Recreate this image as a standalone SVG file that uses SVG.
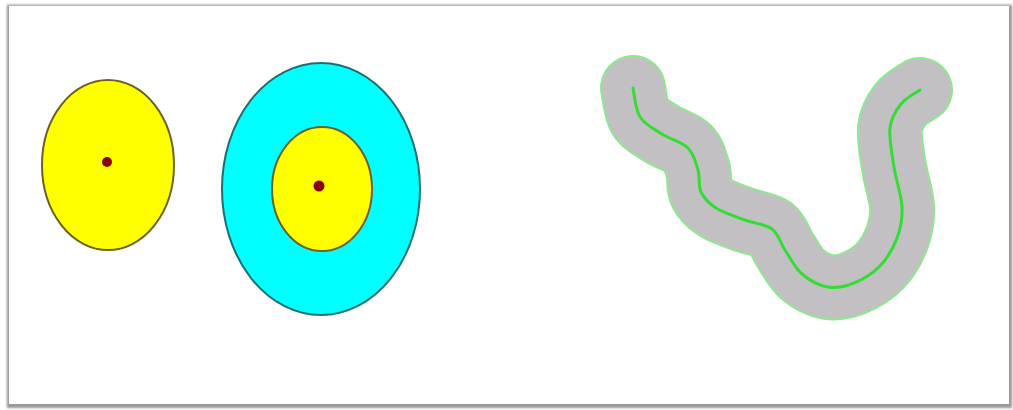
<svg xmlns="http://www.w3.org/2000/svg" xmlns:xlink="http://www.w3.org/1999/xlink" width="1013" height="410" viewBox="0 0 1013 410">
<defs>
<filter id="blur" x="-5%" y="-5%" width="110%" height="110%"><feGaussianBlur stdDeviation="1.2"/></filter>
<path id="river" d="M633,88 C634.2,92.8 635.2,109.3 640,117 C644.8,124.7 654,128.8 662,134 C670,139.2 682,142 688,148 C694,154 695.8,162.7 698,170 C700.2,177.3 698,185.7 701,192 C704,198.3 708.7,203.3 716,208 C723.3,212.7 735.7,216.5 745,220 C754.3,223.5 765.3,224 772,229 C778.7,234 780,242.5 785,250 C790,257.5 794.8,267.8 802,274 C809.2,280.2 819.3,285.5 828,287 C836.7,288.5 845.3,286.5 854,283 C862.7,279.5 872.8,273.5 880,266 C887.2,258.5 893.3,247.8 897,238 C900.7,228.2 902.5,218.8 902,207 C901.5,195.2 896,180.2 894,167 C892,153.8 888.8,138.5 890,128 C891.2,117.5 896,110.3 901,104 C906,97.7 916.8,92.3 920,90"/>
<style>
.yel{fill:#ffff00;stroke:#6e6020;stroke-width:2}
.cy{fill:#00ffff;stroke:#1f6f70;stroke-width:2}
.dot{fill:#8b0000}
</style>
</defs>
<rect width="1013" height="410" fill="#ffffff"/>
<g id="frame">
<rect x="6" y="3" width="1006" height="405" fill="#f2f2f2"/>
<rect x="7" y="5" width="1005" height="403" fill="#9a9a9a" filter="url(#blur)"/>
<rect x="9" y="6" width="1000" height="398" fill="#ffffff"/>
</g>
<g id="point-buffer">
<ellipse class="yel" cx="108" cy="165" rx="66" ry="85"/>
<circle class="dot" cx="107" cy="162" r="5"/>
</g>
<g id="ring-buffer">
<ellipse class="cy" cx="321" cy="189" rx="99" ry="126"/>
<ellipse class="yel" cx="322" cy="189" rx="50" ry="62"/>
<circle class="dot" cx="319" cy="186" r="5.5"/>
</g>
<g id="line-buffer" fill="none" stroke-linecap="round" stroke-linejoin="round">
<use xlink:href="#river" stroke="#8fe88f" stroke-width="66"/>
<use xlink:href="#river" stroke="#c3c0c3" stroke-width="62"/>
<use xlink:href="#river" stroke="#33dd33" stroke-width="3"/>
</g>
</svg>
